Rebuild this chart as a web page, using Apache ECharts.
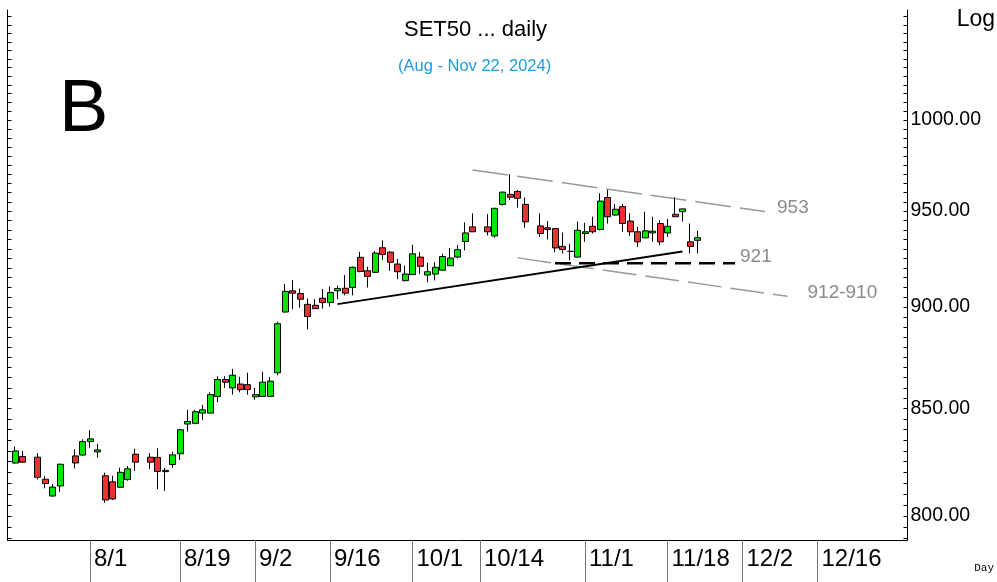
<!DOCTYPE html>
<html>
<head>
<meta charset="utf-8">
<title>SET50 daily</title>
<script src="https://cdn.jsdelivr.net/npm/echarts@6/dist/echarts.min.js"></script>
<style>
  html, body { margin: 0; padding: 0; background: #fff; }
  #chart { width: 997px; height: 582px; }
</style>
</head>
<body>
<div id="chart"></div>
<script>
// weekdays on the axis (holidays stay as empty slots)
const days = [
  '7/17', '7/18', '7/19', '7/22', '7/23', '7/24', '7/25', '7/26', '7/29', '7/30', '7/31',
  '8/1', '8/2', '8/5', '8/6', '8/7', '8/8', '8/9', '8/12', '8/13', '8/14', '8/15', '8/16',
  '8/19', '8/20', '8/21', '8/22', '8/23', '8/26', '8/27', '8/28', '8/29', '8/30',
  '9/2', '9/3', '9/4', '9/5', '9/6', '9/9', '9/10', '9/11', '9/12', '9/13', '9/16', '9/17',
  '9/18', '9/19', '9/20', '9/23', '9/24', '9/25', '9/26', '9/27', '9/30',
  '10/1', '10/2', '10/3', '10/4', '10/7', '10/8', '10/9', '10/10', '10/11', '10/14', '10/15',
  '10/16', '10/17', '10/18', '10/21', '10/22', '10/23', '10/24', '10/25', '10/28', '10/29',
  '10/30', '10/31',
  '11/1', '11/4', '11/5', '11/6', '11/7', '11/8', '11/11', '11/12', '11/13', '11/14', '11/15',
  '11/18', '11/19', '11/20', '11/21', '11/22', '11/25', '11/26', '11/27', '11/28', '11/29',
  '12/2', '12/3', '12/4', '12/5', '12/6', '12/9', '12/10', '12/11', '12/12', '12/13', '12/16',
  '12/17', '12/18', '12/19', '12/20', '12/23', '12/24', '12/25', '12/26', '12/27', '12/30',
  '12/31', '1/1'
]
const xLabels = ['8/1', '8/19', '9/2', '9/16', '10/1', '10/14', '11/1', '11/18', '12/2', '12/16']

// OHLC from 7/18 to 11/22, null = holiday
const openP = [
  824.3, 827.3, null, 827.0, 816.8, 809.1, 813.7, null, 827.6, 828.0,
  834.3, 829.5, 818.4, 815.6, 813.1, 816.7, 828.4, null, 827.0, 826.9,
  820.3, 823.6, 828.6, 842.6, 842.9, 847.8, 847.8, 855.8, 864.0, 859.9,
  861.8, 861.5, 855.6, 855.8, 855.8, 867.3, 897.5, 908.3, 906.9, 901.4,
  900.9, 904.5, 902.3, 908.3, 909.6, 910.0, 925.6, 918.6, 917.8, 930.6,
  928.3, 922.1, 913.5, 916.6, 925.7, 916.4, 916.9, 918.9, 921.2, 925.7,
  933.9, 941.6, null, 941.6, 936.8, 953.6, 959.0, 960.6, 953.6, null,
  942.1, 941.1, 940.7, 931.3, 928.7, 925.7, 938.1, 941.9, 940.2, 957.3,
  947.9, 952.4, 944.7, 939.0, 935.8, 938.4, 943.4, 938.4, 948.3, 949.7,
  933.7, 934.5
]
const closeP = [
  829.9, 824.7, null, 817.7, 814.8, 813.2, 823.7, null, 824.3, 834.3,
  835.6, 830.4, 807.3, 807.8, 820.0, 821.6, 824.7, null, 824.7, 820.4,
  820.9, 828.1, 839.9, 843.8, 848.5, 849.4, 856.7, 864.0, 862.7, 866.1,
  859.1, 859.1, 856.7, 862.7, 863.2, 891.6, 908.0, 907.1, 904.0, 895.2,
  899.2, 902.3, 907.4, 909.5, 907.1, 920.4, 918.2, 915.7, 927.8, 927.1,
  923.0, 918.1, 916.9, 927.4, 920.9, 918.1, 920.4, 926.0, 925.2, 929.6,
  938.4, 939.0, null, 939.0, 951.5, 960.2, 957.5, 956.9, 944.3, null,
  938.1, 940.2, 930.5, 929.7, 928.7, 939.8, 939.0, 939.0, 955.4, 947.0,
  951.0, 943.4, 939.0, 933.7, 939.5, 939.3, 933.7, 941.9, 947.0, 951.2,
  931.3, 935.9
]
const lowP = [
  823.9, 824.3, null, 816.7, 812.6, 808.9, 811.0, null, 821.8, 827.7,
  831.4, 826.8, 806.1, 807.3, 812.9, 816.1, 820.6, null, 821.5, 812.3,
  811.4, 822.0, 825.7, 839.0, 842.5, 844.6, 847.7, 853.1, 859.9, 856.7,
  857.8, 856.7, 854.2, 855.7, 855.7, 866.1, 897.2, 898.9, 899.7, 888.8,
  899.1, 899.2, 900.2, 904.0, 906.0, 906.0, 917.8, 910.0, 917.4, 924.3,
  918.6, 914.3, 913.1, 916.4, 916.9, 912.6, 913.6, 918.6, 921.1, 925.2,
  929.2, 938.9, null, 937.1, 935.8, 952.9, 955.9, 951.9, 941.1, null,
  936.3, 935.0, 928.3, 927.6, 924.0, 925.6, 933.7, 938.1, 939.8, 943.4,
  947.7, 939.0, 936.8, 931.0, 935.7, 933.7, 931.9, 936.3, 946.9, 944.4,
  927.6, 927.6
]
const highP = [
  832.0, 829.9, null, 828.9, 818.2, 814.6, 824.1, null, 830.7, 835.4,
  839.7, 833.3, 819.8, 818.4, 822.1, 822.9, 830.9, null, 828.9, 831.2,
  822.0, 829.6, 840.3, 849.4, 849.4, 851.8, 857.8, 865.6, 865.6, 869.2,
  865.3, 867.3, 859.9, 867.8, 865.3, 892.6, 911.8, 913.8, 909.5, 904.4,
  904.0, 909.2, 910.5, 910.9, 916.4, 920.8, 928.5, 920.7, 928.9, 934.5,
  928.7, 924.8, 921.3, 932.2, 928.3, 922.8, 923.1, 927.4, 930.5, 931.9,
  944.0, 948.8, null, 948.4, 951.8, 960.5, 969.9, 961.4, 957.3, null,
  948.8, 944.7, 941.0, 938.6, 932.7, 944.4, 943.8, 947.0, 959.6, 961.4,
  953.8, 953.8, 948.8, 941.6, 949.7, 947.0, 945.2, 945.8, 957.5, 951.3,
  943.4, 939.5
]

// drawn lines: [date, price] end points
const upperChannel = [['10/11', 972.3], ['12/5', 949.8]]
const lowerChannel = [['10/21', 925.3], ['12/10', 905.5]]
const trendLine = [['9/17', 901.5], ['11/20', 928.6]]
const supportLine = [['10/28', 922.5], ['11/29', 922.5]]

const yTicks = [800, 850, 900, 950, 1000]
const yMin = 789.3
const yMax = 1064

const ln = Math.log
const minorTicks = []
for (let v = 790; v <= 1060; v += 5) minorTicks.push(ln(v))

const candleData = days.map((d, k) => {
  const j = k - 1
  if (j < 0 || j >= openP.length || openP[j] === null) return '-'
  return [ln(openP[j]), ln(closeP[j]), ln(lowP[j]), ln(highP[j])]
})

const showLabel = (idx, val) => xLabels.indexOf(val) >= 0

function drawnLine(pts, style, text, dist, dy) {
  return {
    type: 'line',
    data: [
      [pts[0][0], ln(pts[0][1])],
      {
        value: [pts[1][0], ln(pts[1][1])],
        label: {
          show: true,
          position: 'right',
          distance: dist,
          offset: [0, dy],
          formatter: text,
          color: '#8a8a8a',
          fontSize: 19,
          fontFamily: 'Liberation Sans'
        }
      }
    ],
    symbol: 'circle',
    symbolSize: 0,
    showSymbol: true,
    silent: true,
    lineStyle: style,
    z: 3
  }
}

const chart = echarts.init(document.getElementById('chart'))

chart.setOption({
  animation: false,
  backgroundColor: '#fff',
  grid: { left: 7.5, right: 89.5, top: 10, bottom: 42 },
  xAxis: {
    type: 'category',
    data: days,
    boundaryGap: false,
    axisLine: { lineStyle: { color: '#000', width: 1 } },
    axisTick: {
      interval: showLabel,
      alignWithLabel: true,
      length: 42,
      lineStyle: { color: '#777', width: 1 }
    },
    axisLabel: {
      interval: showLabel,
      align: 'left',
      padding: [0, 0, 0, 4],
      margin: 7,
      color: '#000',
      fontSize: 24,
      fontFamily: 'Liberation Sans Narrow, Liberation Sans'
    },
    splitLine: { show: false }
  },
  yAxis: [{
    type: 'value',
    position: 'right',
    min: ln(yMin),
    max: ln(yMax),
    axisLine: { show: true, lineStyle: { color: '#000', width: 1 } },
    axisTick: { show: true, inside: true, length: 4, customValues: minorTicks, lineStyle: { color: '#000' } },
    axisLabel: {
      customValues: yTicks.map(ln),
      formatter: v => Math.exp(v).toFixed(2),
      margin: 3,
      color: '#000',
      fontSize: 19.5,
      fontFamily: 'Liberation Sans'
    },
    splitLine: { show: false }
  }, {
    type: 'value',
    position: 'left',
    min: ln(yMin),
    max: ln(yMax),
    axisLine: { show: true, lineStyle: { color: '#000', width: 1 } },
    axisTick: { show: true, inside: true, length: 4, customValues: minorTicks, lineStyle: { color: '#000' } },
    axisLabel: { show: false },
    splitLine: { show: false }
  }],
  graphic: [
    { type: 'text', left: 404, top: 19, style: { text: 'SET50 ... daily', fill: '#000', font: '22px Liberation Sans' } },
    { type: 'text', left: 398, top: 58, style: { text: '(Aug - Nov 22, 2024)', fill: '#1e9be0', font: '16.5px Liberation Sans' } },
    { type: 'text', left: 59, top: 74, style: { text: 'B', fill: '#000', font: '74px Liberation Sans' } },
    { type: 'text', right: 2, top: 8, style: { text: 'Log', fill: '#000', font: '23px Liberation Sans' } },
    { type: 'text', right: 3, top: 563, style: { text: 'Day', fill: '#000', font: '11px Liberation Mono' } }
  ],
  series: [
    {
      type: 'candlestick',
      data: candleData,
      barWidth: 6.5,
      itemStyle: {
        color: '#00e600',
        color0: '#f03030',
        borderColor: '#000',
        borderColor0: '#000',
        borderColorDoji: '#000',
        borderWidth: 1
      },
      z: 4
    },
    drawnLine(upperChannel, { color: '#999', width: 1.5, type: [36, 9] }, '953', 12, -4),
    drawnLine(lowerChannel, { color: '#999', width: 1.5, type: [34, 9] }, '912-910', 20, -3),
    drawnLine(trendLine, { color: '#000', width: 2 }, '', 0, 0),
    drawnLine(supportLine, { color: '#000', width: 2.5, type: [16, 8] }, '921', 5, -6)
  ]
})
</script>
</body>
</html>
